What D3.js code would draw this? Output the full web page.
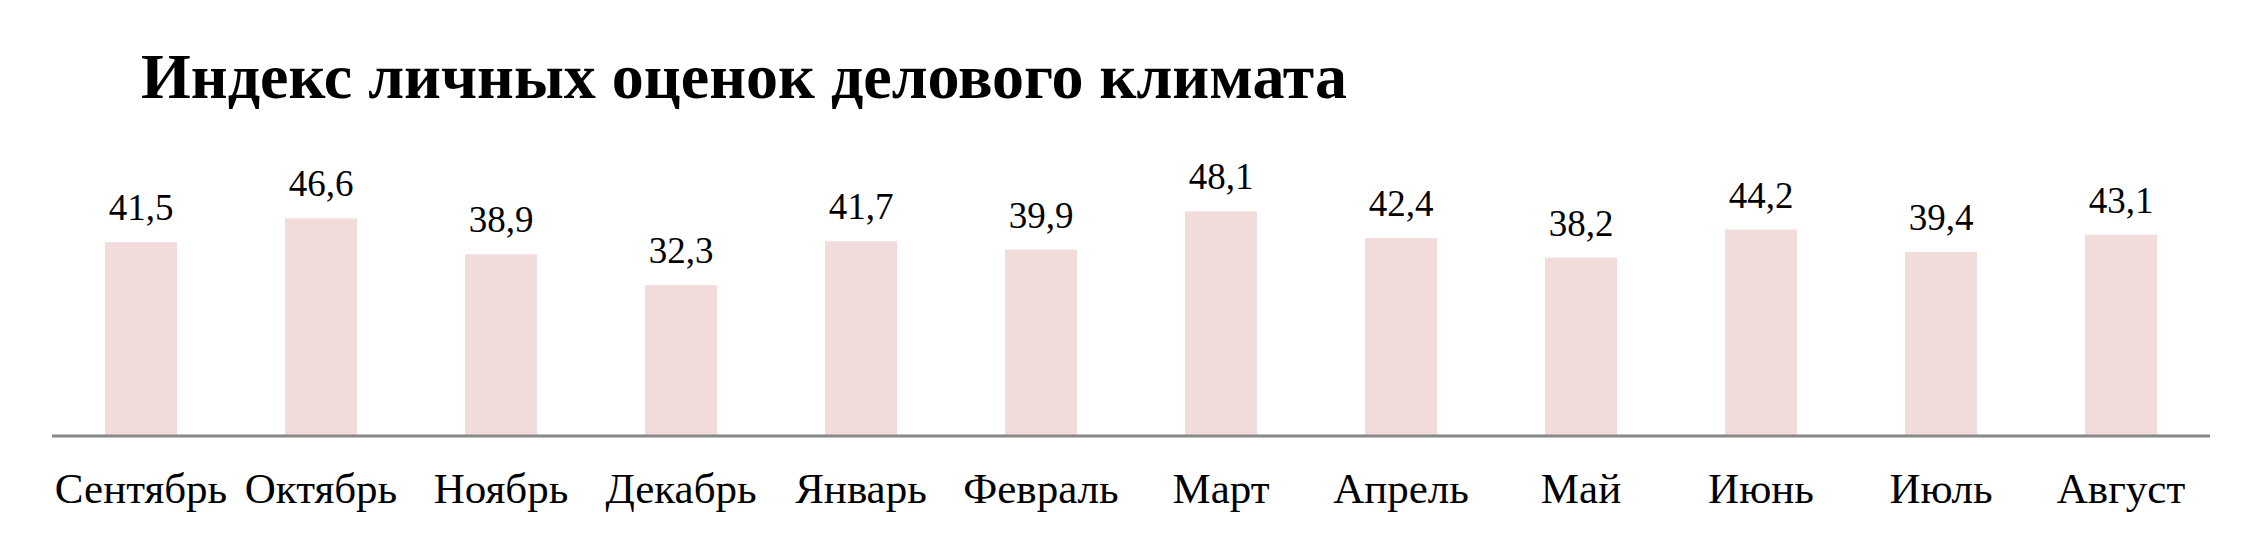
<!DOCTYPE html>
<html><head><meta charset="utf-8">
<script src="https://cdn.jsdelivr.net/npm/d3@7"></script>
<style>body{margin:0;background:#fff}</style></head>
<body><svg id="c" width="2262" height="539"></svg>
<script>
const categories=["Сентябрь","Октябрь","Ноябрь","Декабрь","Январь","Февраль","Март","Апрель","Май","Июнь","Июль","Август"];
const values=[41.5,46.6,38.9,32.3,41.7,39.9,48.1,42.4,38.2,44.2,39.4,43.1];
const labels=["41,5","46,6","38,9","32,3","41,7","39,9","48,1","42,4","38,2","44,2","39,4","43,1"];
const title="Индекс личных оценок делового климата";

const svg=d3.select("#c");
const font="'Liberation Serif', serif";
const x=d3.scaleBand().domain(categories).range([51,2211]).paddingInner(0.6).paddingOuter(0.3);
const y=d3.scaleLinear().domain([0,50]).range([436,436-50*4.67]);

svg.append("text").attr("x",141).attr("y",98).attr("font-family",font).attr("font-weight","bold")
 .attr("font-size",64).attr("fill","#000").text(title);

svg.selectAll("rect").data(values).join("rect")
 .attr("x",(d,i)=>x(categories[i])).attr("width",x.bandwidth())
 .attr("y",d=>y(d)).attr("height",d=>y(0)-y(d)).attr("fill","#f2dbdb");

svg.selectAll(".v").data(values).join("text").attr("class","v")
 .attr("x",(d,i)=>x(categories[i])+x.bandwidth()/2).attr("y",d=>y(d)-22)
 .attr("text-anchor","middle").attr("font-family",font).attr("font-size",37).text((d,i)=>labels[i]);

const ax=svg.append("g").attr("transform","translate(0,436)").call(d3.axisBottom(x).tickSize(0).tickPadding(36));
ax.select(".domain").remove();
ax.selectAll("text").attr("font-family",font).attr("font-size",43).attr("fill","#000");
svg.append("line").attr("x1",52).attr("x2",2210).attr("y1",436).attr("y2",436).attr("stroke","#888").attr("stroke-width",3);
</script></body></html>
